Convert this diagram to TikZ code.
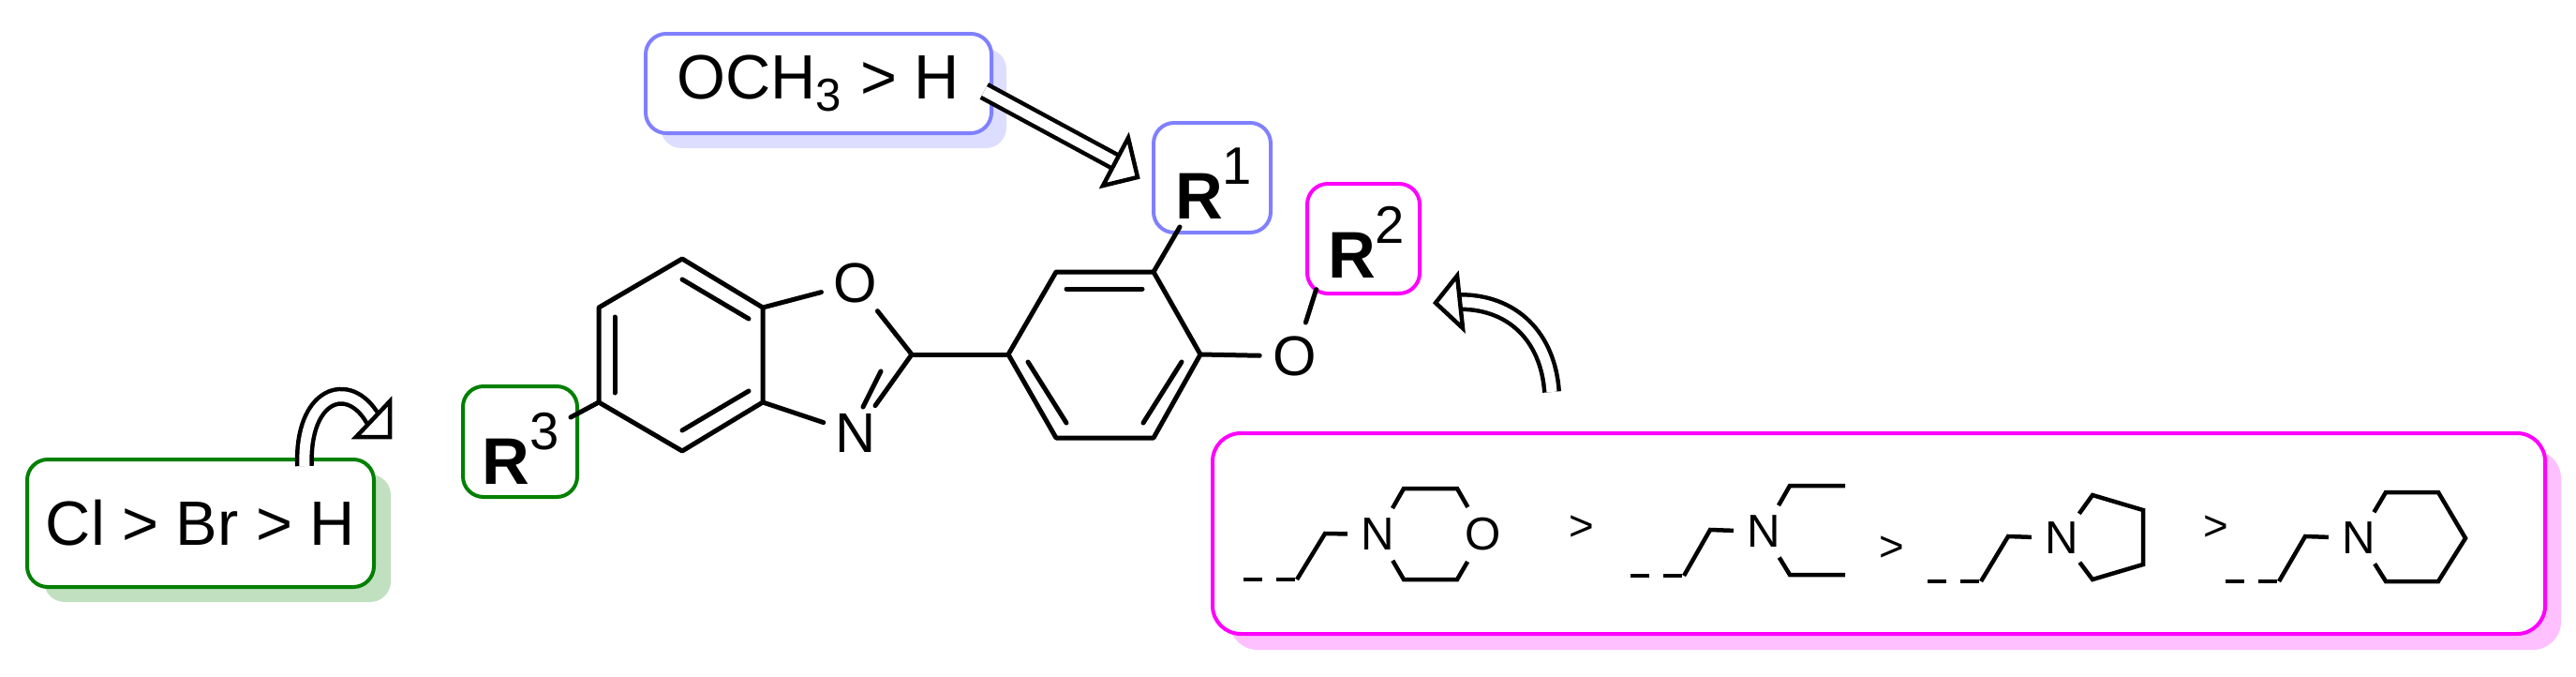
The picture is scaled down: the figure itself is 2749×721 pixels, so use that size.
\documentclass[tikz,border=0pt]{standalone}
\usepackage{fontspec}
\setmainfont{Liberation Sans}
\usetikzlibrary{calc}
\definecolor{rblue}{HTML}{8080FF}
\definecolor{rblues}{HTML}{DDDDFF}
\definecolor{rgreen}{HTML}{008000}
\definecolor{rgreens}{HTML}{C0E0C0}
\definecolor{rmag}{HTML}{FF00FF}
\definecolor{rmags}{HTML}{FFC0FF}
\tikzset{
 bond/.style={line width=0.5mm,line cap=round,line join=round},
 thinbond/.style={line width=0.45mm,line join=miter},
 atom/.style={circle,inner sep=0.4mm,font=\fontsize{17}{17}\selectfont},
 satom/.style={circle,inner sep=0.5mm,font=\fontsize{14}{14}\selectfont},
 rlab/.style={font=\fontsize{20}{20}\selectfont\bfseries},
 bigtext/.style={font=\fontsize{19}{22}\selectfont},
 rbox/.style={rounded corners=2.2mm,line width=0.4mm},
 hollow/.style={line width=0.45mm,double=white,double distance=1.1mm},
 headst/.style={fill=white,draw=black,line width=0.45mm,line join=miter},
}
\newcommand\rsup[1]{\raisebox{1.0ex}{\fontsize{16}{16}\selectfont\mdseries #1}}
\begin{document}
\begin{tikzpicture}[x=0.1mm,y=-0.1mm]
\useasboundingbox (0,0) rectangle (2749,721);
% ---- boxes with shadows
\fill[rblues,rounded corners=2.2mm] (705,52) rectangle (1074,158);
\draw[rbox,rblue,fill=white] (689,36) rectangle (1058,142);
\node[bigtext] (och) at (873,89) {OCH$_{\mbox{\fontsize{14}{14}\selectfont 3}}$ > H};
\fill[rgreens,rounded corners=2.2mm] (47,506) rectangle (417,642);
\draw[rbox,rgreen,fill=white] (29,490) rectangle (399,626);
\node[bigtext] (clb) at (214,558) {Cl > Br > H};
\fill[rmags,rounded corners=3mm] (1312,480) rectangle (2733,693);
\draw[rbox,rmag,fill=white,rounded corners=3mm] (1294,462) rectangle (2716,676);
\draw[rbox,rblue] (1231,131) rectangle (1356,248);
\node[rlab] (r1) at (1295,196) {R\rsup{1}};
\draw[rbox,rmag] (1395,196) rectangle (1515,313);
\node[rlab] (r2) at (1458,258) {R\rsup{2}};
\draw[rbox,rgreen] (494,412) rectangle (616,530);
\node[rlab] (r3) at (556,478) {R\rsup{3}};
% ---- molecule
\coordinate (a1) at (728,276); \coordinate (a2) at (814,328);
\coordinate (a3) at (814,429); \coordinate (a4) at (728,481);
\coordinate (a5) at (639,429); \coordinate (a6) at (639,328);
\node[atom] (o1) at (913,302) {O};
\node[atom] (n1) at (913,462) {N};
\coordinate (c2) at (973,378);
\coordinate (b1) at (1076,378); \coordinate (b2) at (1127,290);
\coordinate (b3) at (1231,290); \coordinate (b4) at (1281,378);
\coordinate (b5) at (1231,467); \coordinate (b6) at (1127,467);
\node[atom] (o2) at (1382,380) {O};
\draw[bond] (a1)--(a2)--(a3)--(a4)--(a5)--(a6)--cycle;
\draw[bond] (a2)--(o1)--(c2)--(n1)--(a3);
\draw[bond] (c2)--(b1);
\draw[bond] (b1)--(b2)--(b3)--(b4)--(b5)--(b6)--cycle;
\draw[bond] (b4)--(o2)--(r2.south west);
\draw[bond] (b3)--(1259,242);
\draw[bond] (a5)--(609,445);
\draw[bond] (728,298)--(799,340);
\draw[bond] (656,338)--(656,419);
\draw[bond] (728,459)--(799,417);
\draw[bond] (1138,308)--(1219,308);
\draw[bond] (1097,386)--(1138,451);
\draw[bond] (1261,386)--(1220,451);
\draw[bond] (940,396)--(921,434);
% ---- hollow arrows
\draw[hollow] (och.east)++(14,8) -- (1191,173);
\draw[headst] (1214,189) -- (1177,198) -- (1204,147) -- cycle;
\draw[hollow] (325,497) .. controls (322,420) and (372,402) .. (398,447);
\draw[headst] (416,466) -- (380,466) -- (416,428) -- cycle;
\draw[hollow] (1656,418) .. controls (1652,360) and (1615,322) .. (1558,322);
\draw[headst] (1532,323) -- (1555,294) -- (1561,350) -- cycle;
% ---- amines
\node[satom] (m1) at (1470,570) {N};
\node[satom] (m2) at (1583,570) {O};
\draw[thinbond,dash pattern=on 2mm off 1.5mm] (1327,618)--(1384,618);
\draw[thinbond] (1384,618)--(1414,569)--(m1);
\draw[thinbond] (m1)--(1498,521)--(1555,521)--(m2)--(1555,618)--(1498,618)--(m1);
\node[font=\fontsize{13}{13}\selectfont] (g1) at (1688,563) {>};
\node[satom] (m3) at (1882,567) {N};
\draw[thinbond,dash pattern=on 2mm off 1.5mm] (1740,614)--(1797,614);
\draw[thinbond] (1797,614)--(1825,565)--(m3);
\draw[thinbond] (m3)--(1910,518)--(1969,518);
\draw[thinbond] (m3)--(1910,613)--(1969,613);
\node[font=\fontsize{13}{13}\selectfont] (g2) at (2019,585) {>};
\node[satom] (m4) at (2200,574) {N};
\draw[thinbond,dash pattern=on 2mm off 1.5mm] (2057,620)--(2114,620);
\draw[thinbond] (2114,620)--(2143,572)--(m4);
\draw[thinbond] (m4)--(2233,528)--(2287,544)--(2287,602)--(2233,618)--(m4);
\node[font=\fontsize{13}{13}\selectfont] (g3) at (2365,563) {>};
\node[satom] (m5) at (2517,574) {N};
\draw[thinbond,dash pattern=on 2mm off 1.5mm] (2375,620)--(2432,620);
\draw[thinbond] (2432,620)--(2460,572)--(m5);
\draw[thinbond] (m5)--(2546,525)--(2602,525)--(2631,574)--(2602,620)--(2546,620)--(m5);
\end{tikzpicture}
\end{document}
